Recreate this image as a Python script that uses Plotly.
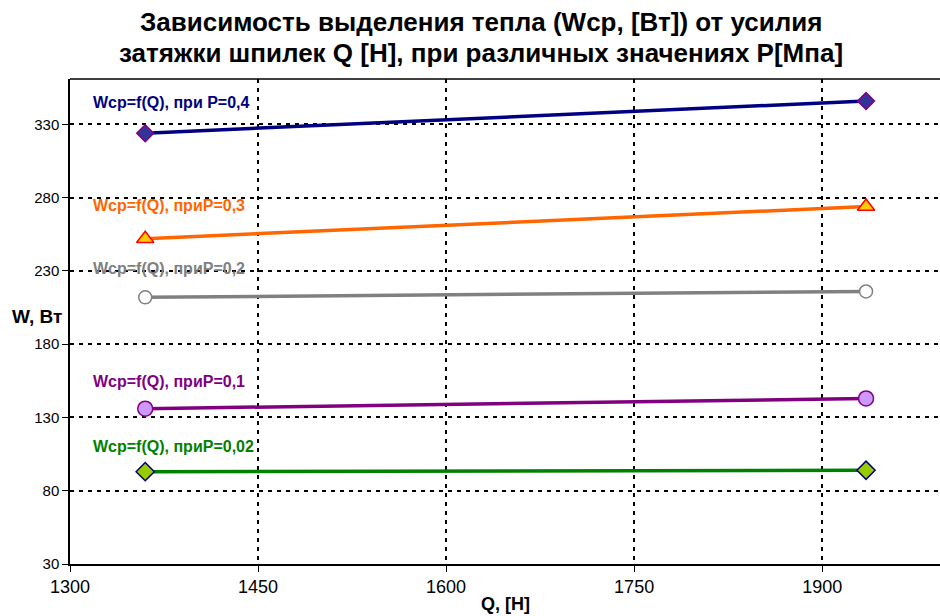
import plotly.graph_objects as go

# Data
Q = [1360, 1935]
W_p04 = [324, 346]
W_p03 = [252, 274]
W_p02 = [212, 216]
W_p01 = [136, 143]
W_p002 = [93, 94]

labels = ["Wcp=f(Q), при P=0,4", "Wcp=f(Q), приP=0,3", "Wcp=f(Q), приP=0,2",
          "Wcp=f(Q), приP=0,1", "Wcp=f(Q), приP=0,02"]
label_y = [345, 274.5, 231.5, 154.5, 110]
x_ticks = [1300, 1450, 1600, 1750, 1900]
y_ticks = [30, 80, 130, 180, 230, 280, 330]
title_lines = ["Зависимость выделения тепла (Wcp, [Вт]) от усилия",
               "затяжки шпилек Q [H], при различных значениях P[Мпа]"]

series = [
    (W_p04, "#000080", "diamond", "#333399", "#800080", 13),
    (W_p03, "#FF6600", "triangle-up", "#FFCC00", "#FF0000", 15),
    (W_p02, "#808080", "circle", "#FFFFFF", "#808080", 13),
    (W_p01, "#800080", "circle", "#CC99FF", "#800080", 15),
    (W_p002, "#008000", "diamond", "#99CC00", "#000080", 14),
]

fig = go.Figure()
for (ys, lc, sym, fc, oc, sz), name in zip(series, labels):
    fig.add_trace(go.Scatter(
        x=Q, y=ys, mode="lines+markers", name=name,
        line=dict(color=lc, width=3.5),
        marker=dict(symbol=sym, color=fc, size=sz, line=dict(color=oc, width=1.5)),
        showlegend=False,
    ))

for name, yv, (ys, lc, *_rest) in zip(labels, label_y, series):
    fig.add_annotation(x=1317, y=yv, xref="x", yref="y", text="<b>" + name + "</b>",
                       showarrow=False, xanchor="left", yanchor="middle",
                       font=dict(family="Liberation Sans, Arial", size=16, color=lc))

# Title lines
for line, yp in zip(title_lines, [1.1175, 1.0536]):
    fig.add_annotation(x=0.472, y=yp, xref="paper", yref="paper", text="<b>" + line + "</b>",
                       showarrow=False, xanchor="center", yanchor="middle",
                       font=dict(family="Liberation Sans, Arial", size=26, color="black"))

fig.add_annotation(x=-0.069, y=0.51, xref="paper", yref="paper", text="<b>W, Вт</b>",
                   showarrow=False, xanchor="left", yanchor="middle",
                   font=dict(family="Liberation Sans, Arial", size=19, color="black"))
fig.add_annotation(x=0.5, y=-0.082, xref="paper", yref="paper", text="<b>Q, [H]</b>",
                   showarrow=False, xanchor="center", yanchor="middle",
                   font=dict(family="Liberation Sans, Arial", size=18, color="black"))

fig.add_shape(type="line", xref="paper", yref="paper", x0=0, x1=1, y0=1, y1=1,
              line=dict(color="black", width=1.5))

fig.update_layout(
    width=940, height=616,
    margin=dict(l=70, r=0, t=79, b=52),
    paper_bgcolor="white", plot_bgcolor="white",
    xaxis=dict(range=[1300, 1994], tickvals=x_ticks, ticktext=[str(v) for v in x_ticks],
               showgrid=True, gridcolor="black", griddash="4px,5px", gridwidth=2,
               showline=True, linecolor="black", linewidth=1.5,
               ticks="outside", ticklen=6, tickcolor="black",
               tickfont=dict(family="Liberation Sans, Arial", size=18, color="black"),
               zeroline=False),
    yaxis=dict(range=[30, 361], tickvals=y_ticks, ticktext=[str(v) for v in y_ticks],
               showgrid=True, gridcolor="black", griddash="4px,5px", gridwidth=2,
               showline=True, linecolor="black", linewidth=1.5,
               ticks="outside", ticklen=6, tickcolor="black",
               tickfont=dict(family="Liberation Sans, Arial", size=15, color="black"),
               zeroline=False),
)

fig.write_html("out.html")
